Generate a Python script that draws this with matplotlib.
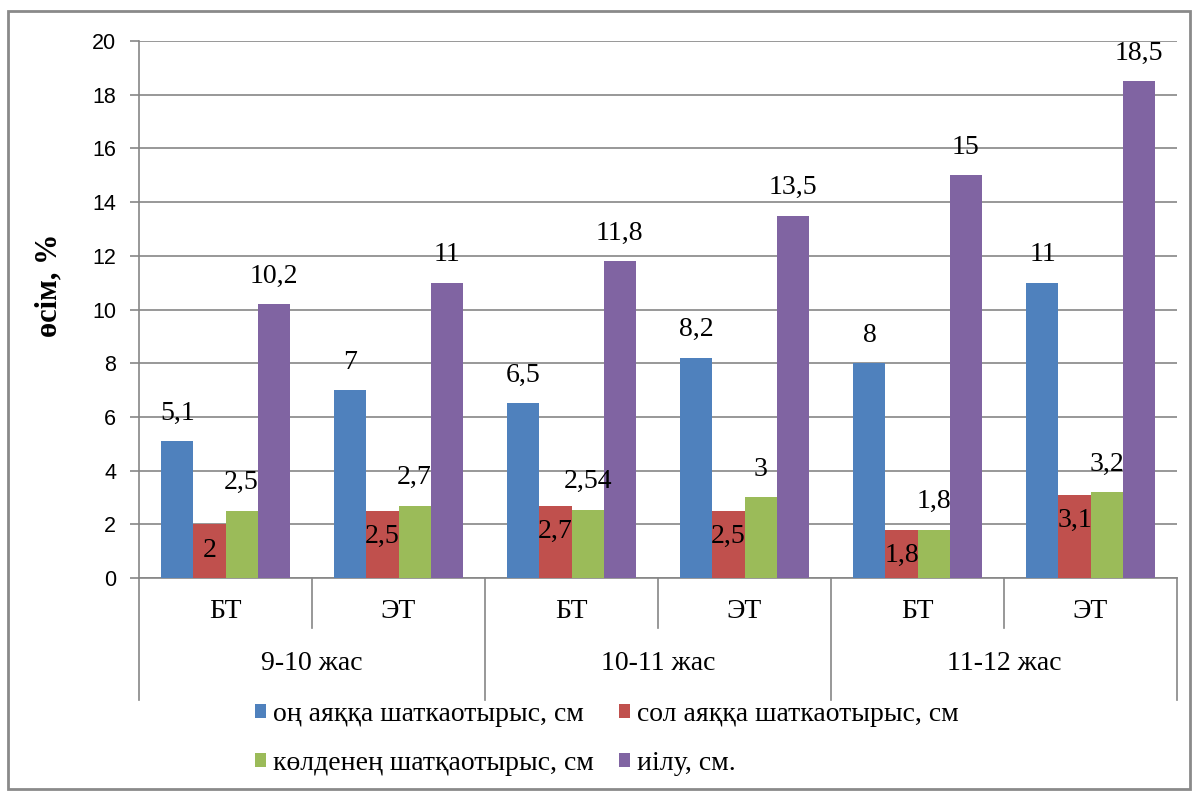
import matplotlib
matplotlib.use("Agg")
import matplotlib.pyplot as plt
from matplotlib.patches import Rectangle
import numpy as np

sub_labels = ["БТ", "ЭТ", "БТ", "ЭТ", "БТ", "ЭТ"]
group_labels = ["9-10 жас", "10-11 жас", "11-12 жас"]
series_names = ["оң аяққа шаткаотырыс, см", "сол аяққа шаткаотырыс, см",
                "көлденең шатқаотырыс, см", "иілу, см."]
right_leg = [5.1, 7, 6.5, 8.2, 8, 11]
left_leg = [2, 2.5, 2.7, 2.5, 1.8, 3.1]
cross = [2.5, 2.7, 2.54, 3, 1.8, 3.2]
bend = [10.2, 11, 11.8, 13.5, 15, 18.5]
series = [right_leg, left_leg, cross, bend]
colors = ["#4F81BD", "#C0504D", "#9BBB59", "#8064A2"]
ylabel = "өсім, %"

serif = "Liberation Serif"
sans = "Liberation Sans"

fig = plt.figure(figsize=(11.97, 7.91), dpi=100)
ax = fig.add_axes([139/1197, 1-578/791, (1177-139)/1197, (578-41)/791])

n = len(sub_labels)
x = np.arange(n) + 0.5
w = 0.185
handles = []
for k, (vals, c, name) in enumerate(zip(series, colors, series_names)):
    pos = x + (k - 1.5) * w
    bars = ax.bar(pos, vals, width=w, color=c, label=name, zorder=3)
    handles.append(bars)
    for b, v in zip(bars, vals):
        s = f"{v:g}".replace(".", ",")
        off = -26 if k == 1 else 28
        ax.annotate(s, (b.get_x() + b.get_width()/2, v), xytext=(0, off),
                    textcoords="offset pixels", ha="center", va="center",
                    fontsize=20, family=serif, zorder=5)

gray = "#868686"
ax.set_xlim(0, n)
ax.set_ylim(0, 20)
ax.set_yticks(np.arange(0, 21, 2))
ax.set_yticklabels([str(v) for v in range(0, 21, 2)], family=sans, fontsize=15.5)
ax.yaxis.grid(True, color=gray, linewidth=1.2, zorder=0)
ax.set_xticks([])
for s in ["top", "right"]:
    ax.spines[s].set_visible(False)
ax.spines["left"].set_color(gray)
ax.spines["bottom"].set_color(gray)
ax.spines["left"].set_linewidth(1.2)
ax.spines["bottom"].set_linewidth(1.2)
ax.tick_params(axis="y", length=6.5, color=gray, width=1.2, pad=10)

tr = ax.get_xaxis_transform()
ax_h = 578 - 41
for i in range(n + 1):
    yb = -50/ax_h if i % 2 == 1 else -122/ax_h
    ax.plot([i, i], [0, yb], transform=tr, color=gray, linewidth=1.2, clip_on=False)
for i, lab in enumerate(sub_labels):
    ax.text(i + 0.5, -33/ax_h, lab, transform=tr, ha="center", va="center",
            fontsize=20, family=serif)
for g, lab in enumerate(group_labels):
    ax.text(2*g + 1, -85/ax_h, lab, transform=tr, ha="center", va="center",
            fontsize=20, family=serif)

fig.text(49/1197, 1-285/791, ylabel, rotation=90, ha="center", va="center",
         fontsize=22, family=serif, fontweight="bold")

order = [0, 2, 1, 3]
leg = fig.legend([handles[i] for i in order], [series_names[i] for i in order],
                 loc="upper left", bbox_to_anchor=(255/1197, 1-702/791), ncol=2,
                 frameon=False, prop={"family": serif, "size": 20},
                 handlelength=0.4, handleheight=0.4, handletextpad=0.25,
                 columnspacing=0.9, borderaxespad=0, borderpad=0, labelspacing=0.87)

fig.patches.append(Rectangle((8/1197, 1-789/791), (1190-8)/1197, (789-11)/791,
                             transform=fig.transFigure, fill=False,
                             edgecolor="#8a8a8a", linewidth=2))

fig.savefig("out.png", dpi=100)
